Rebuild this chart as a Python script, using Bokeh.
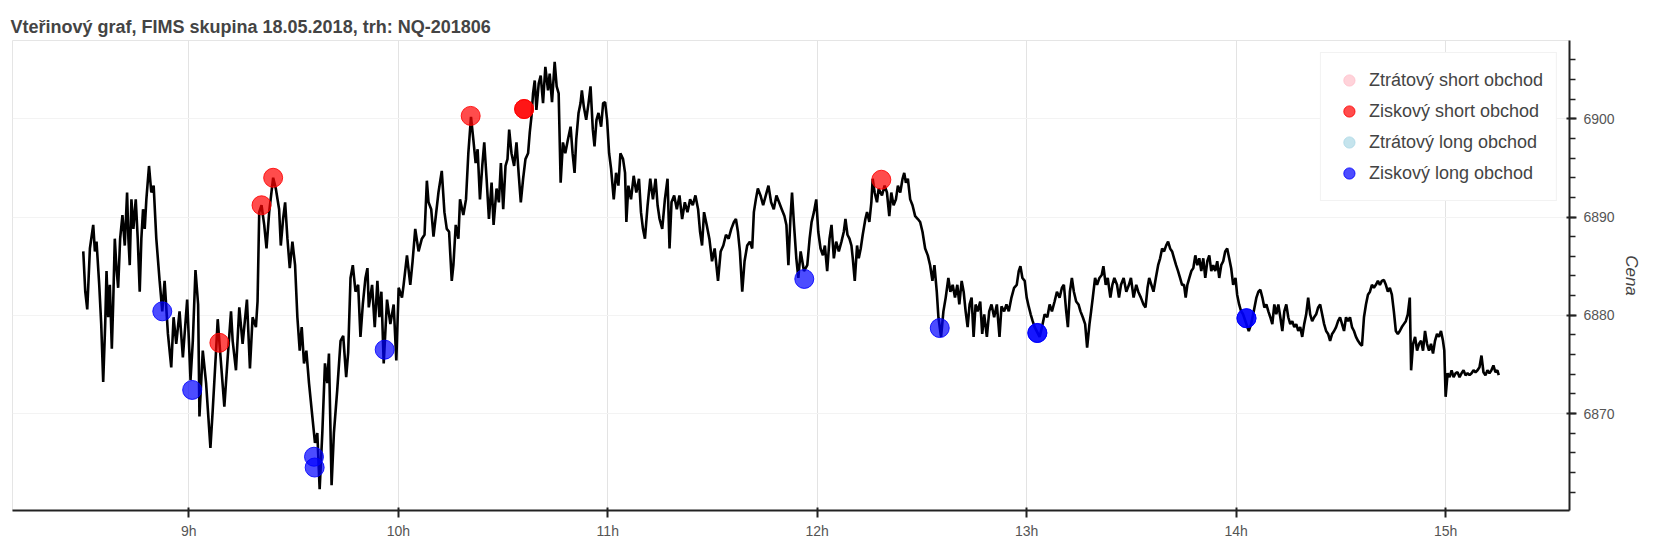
from bokeh.plotting import figure
from bokeh.models import SingleIntervalTicker, PrintfTickFormatter
from bokeh.embed import file_html
from bokeh.resources import INLINE

# --- data: time in minutes after 08:00, price ---
cas = [
    29.76, 30.33, 30.90, 31.66, 32.61, 33.09, 33.56, 34.33, 34.90, 35.47, 36.04, 36.42, 36.89, 37.37, 37.94,
    38.32, 38.79, 39.27, 39.75, 40.32, 40.98, 41.65, 42.31, 42.69, 43.07, 43.55, 44.12, 44.79, 45.36, 45.93,
    46.40, 46.88, 47.36, 47.83, 48.59, 49.25, 49.92, 50.68, 51.63, 52.39, 53.06, 54.01, 54.96, 55.63, 56.39,
    57.34, 58.29, 59.52, 60.48, 61.14, 61.90, 62.66, 63.04, 63.99, 64.94, 66.18, 66.85, 67.80, 68.27, 68.94,
    70.17, 71.13, 72.08, 72.55, 73.50, 74.45, 75.40, 76.64, 77.50, 78.26, 79.21, 79.68, 80.16, 80.82, 81.59,
    82.25, 83.01, 84.15, 84.91, 85.86, 86.34, 87.00, 87.58, 88.24, 88.91, 89.67, 90.43, 91.09, 91.76, 92.33,
    92.99, 93.66, 94.42, 95.37, 96.13, 96.80, 97.47, 98.23, 98.99, 99.65, 100.13, 100.89, 101.55, 102.51, 103.46,
    104.22, 105.07, 105.64, 106.31, 106.97, 107.74, 108.50, 109.16, 109.83, 110.59, 111.16, 111.54, 112.49, 113.25, 114.01,
    114.58, 115.15, 115.82, 116.77, 117.72, 118.67, 119.43, 120.10, 121.05, 121.52, 122.48, 123.43, 124.09, 124.85, 125.80,
    126.75, 127.51, 128.18, 128.66, 129.42, 130.08,
    131.50, 132.45, 133.21, 133.88, 134.54, 135.31, 135.78, 136.45, 137.21, 137.68, 138.63, 139.39, 140.06, 140.82, 141.49,
    142.15, 142.72, 143.39, 144.05, 144.62, 145.29, 145.96, 146.72, 147.29, 148.14, 148.81, 149.38, 150.05, 150.71, 151.28,
    151.76, 152.42, 153.18, 153.85, 154.52, 155.09, 155.75, 156.42, 157.18, 157.65, 158.13, 158.60, 159.08, 159.56, 160.22,
    160.79, 161.46, 162.12, 162.88, 163.36, 164.03, 164.79, 165.36, 165.93, 166.50, 167.16, 167.83, 168.59, 169.35, 169.92,
    170.49, 170.97, 171.63, 172.20, 172.58, 173.15, 173.82, 174.49, 175.06, 175.72, 176.20, 176.77, 177.34, 178.10, 178.67,
    179.24, 179.81, 180.38, 180.95, 181.71, 182.38, 183.05, 183.62, 184.38, 184.95, 185.33, 185.90, 186.66, 187.42, 188.18,
    188.94, 189.51, 190.08, 190.65, 191.41, 192.17, 192.94, 193.70, 194.27, 194.84, 195.60, 196.36, 197.12, 197.69, 198.26,
    199.02, 199.78, 200.54, 201.30, 202.07, 202.83, 203.59, 204.35, 205.11, 205.87, 206.44, 207.01, 207.58, 208.34, 209.10,
    209.86, 210.62, 211.58, 212.34, 213.10, 213.86, 214.62, 215.38, 216.14, 216.71, 217.28, 217.85, 218.52, 219.18, 219.94,
    220.70, 221.37, 221.85, 222.42, 222.99, 223.75, 224.51, 225.27, 226.03, 226.79, 227.55, 228.31, 229.07, 229.83, 230.60,
    231.17, 231.74, 232.31, 232.78,
    233.35, 234.01, 234.58, 235.25, 236.20, 237.15, 237.82, 238.39, 239.05, 239.72, 240.29, 240.95, 241.62, 242.19, 242.85,
    243.52, 244.09, 244.76, 245.42, 246.18, 246.94, 247.61, 248.08, 248.66, 249.23, 249.80, 250.18, 250.75, 251.41, 251.89,
    252.46, 253.03, 253.79, 254.27, 254.93, 255.50, 255.88, 256.45, 257.12, 257.59, 258.54, 259.30, 259.97, 260.64, 261.21,
    261.87, 262.54, 263.11, 263.78, 264.44, 264.92, 265.39, 265.96, 266.63, 267.29, 268.05, 268.82, 269.48, 270.15, 270.91,
    271.67, 272.33, 273.00, 273.57, 274.24, 274.71, 275.47, 276.14, 276.80, 277.56, 278.13, 278.80, 279.46, 280.13, 280.70,
    281.37, 281.94, 282.51, 283.08, 283.65, 284.22, 284.79, 285.36, 285.93, 286.69, 287.26, 287.83, 288.59, 289.26, 289.92,
    290.68, 291.45, 292.21, 292.78, 293.54, 294.20, 294.87, 295.63, 296.39, 297.15, 297.72, 298.20, 298.77, 299.43, 300.00,
    300.57, 301.14, 301.71, 302.28, 303.71, 304.38, 305.14, 305.90, 306.57, 307.23, 307.99, 308.66, 309.42, 310.09, 310.65,
    311.32, 311.80, 312.37, 312.94, 313.51, 314.17, 314.84, 315.41, 316.07, 316.74, 317.31, 317.98, 318.45, 318.93, 319.59,
    320.16, 320.83, 321.49, 321.97, 322.64, 323.21, 323.97, 324.54, 325.11, 325.87, 326.44, 327.01, 327.77, 328.53, 329.29,
    329.86, 330.62, 331.38, 331.95, 332.71, 333.47, 334.04, 334.61, 335.09,
    336.32, 336.99, 337.65, 338.22, 338.79, 339.36, 339.93, 340.50, 341.08, 341.65, 342.22, 342.79, 343.36, 343.93, 344.50,
    345.07, 345.54, 346.02, 346.59, 347.16, 347.73, 348.30, 348.87, 349.44, 350.01, 350.58, 351.15, 351.73, 352.30, 352.87,
    353.44, 354.01, 354.58, 355.15, 355.72, 356.29, 356.86, 357.43, 358.00, 358.57, 359.14, 359.81, 360.28, 360.85, 361.42,
    361.99, 363.61, 364.28, 365.04, 365.80, 366.37, 366.94, 367.51, 368.08, 368.65, 369.22, 369.79, 370.36, 370.93, 371.50,
    372.08, 372.65, 373.22, 373.79, 374.36, 374.93, 375.50, 376.07, 376.64, 377.21, 377.78, 378.35, 378.92, 379.49, 380.06,
    380.63, 381.20, 381.77, 382.34, 382.91, 383.49, 384.06, 384.63, 385.20, 385.77, 386.34, 386.91, 387.48, 388.05, 388.62,
    389.19, 389.76, 390.33, 390.90, 391.47, 392.04, 392.61, 393.18, 393.75, 394.32, 394.90, 395.47, 396.04, 396.61, 397.18,
    397.75, 398.32, 398.89, 399.46, 400.03, 400.60, 401.17, 401.74, 402.31, 402.88, 403.45, 404.02, 404.60, 405.17, 405.74,
    406.31, 406.88, 407.45, 408.02, 408.59, 409.16, 409.73, 410.11, 410.68, 411.25, 411.82, 412.39, 412.96, 413.53, 414.10,
    414.67, 415.24, 415.81, 416.39, 416.96, 417.53, 418.10, 418.67, 419.24, 419.62, 420.00, 420.57, 421.14, 421.71, 422.28,
    422.85, 423.42, 423.99, 424.56, 425.13, 425.70, 426.28, 426.85, 427.42, 427.99, 428.56, 429.13, 429.70, 430.27, 430.84,
    431.41, 431.98, 432.55, 433.12, 433.69, 434.26, 434.83, 435.21,
]
cena = [
    6886.5, 6882.4, 6880.6, 6886.8, 6889.2, 6886.5, 6887.5, 6883.1, 6879.1, 6873.2, 6879.1, 6884.5, 6879.8, 6883.1, 6876.6,
    6881.1, 6887.8, 6884.8, 6882.8, 6887.8, 6890.2, 6887.1, 6892.5, 6887.8, 6885.1, 6891.8, 6888.8, 6891.8, 6887.8, 6882.4,
    6887.8, 6890.8, 6888.8, 6891.8, 6895.2, 6892.5, 6893.2, 6887.8, 6883.5, 6880.4, 6883.5, 6878.1, 6874.7, 6879.8, 6877.1,
    6880.4, 6875.7, 6881.6, 6873.4, 6877.4, 6884.6, 6881.1, 6869.7, 6876.4, 6873.1, 6866.5, 6870.4, 6876.4, 6879.6, 6876.4,
    6870.7, 6875.7, 6880.4, 6877.4, 6874.4, 6880.8, 6877.1, 6881.6, 6874.6, 6879.8, 6878.8, 6881.4, 6890.5, 6891.2, 6889.2,
    6886.8, 6890.5, 6894.0, 6892.9, 6890.8, 6887.1, 6889.8, 6891.5, 6887.8, 6884.8, 6887.5, 6885.1, 6879.8, 6876.4, 6878.8,
    6875.1, 6876.4, 6873.1, 6869.7, 6867.0, 6868.0, 6862.3, 6868.0, 6875.1, 6873.1, 6876.1, 6862.7, 6868.0, 6872.4, 6877.4,
    6877.9, 6873.7, 6876.2, 6883.8, 6885.1, 6882.4, 6883.1, 6877.8, 6881.1, 6883.8, 6884.8, 6880.8, 6883.1, 6878.8, 6883.5,
    6879.8, 6882.4, 6875.1, 6881.6, 6879.1, 6881.1, 6875.4, 6882.8, 6881.8, 6883.1, 6886.1, 6883.1, 6885.5, 6888.8, 6886.5,
    6887.8, 6888.2, 6893.7, 6891.5, 6890.8, 6888.0,
    6892.5, 6894.7, 6890.5, 6888.8, 6888.5, 6883.5, 6885.1, 6889.2, 6887.8, 6891.8, 6890.2, 6891.8, 6896.5, 6900.2, 6897.9,
    6895.5, 6896.9, 6891.8, 6895.2, 6897.6, 6893.9, 6889.8, 6893.5, 6889.2, 6892.9, 6891.5, 6895.5, 6890.8, 6895.2, 6895.9,
    6898.9, 6896.5, 6895.2, 6897.6, 6894.2, 6891.5, 6893.9, 6895.9, 6896.5, 6898.6, 6900.2, 6902.6, 6903.9, 6900.9, 6903.6,
    6904.4, 6901.6, 6905.3, 6902.9, 6904.6, 6901.7, 6905.8, 6903.3, 6902.6, 6893.5, 6897.6, 6896.5, 6897.9, 6899.2, 6896.5,
    6894.5, 6897.9, 6900.6, 6901.6, 6902.9, 6901.2, 6899.9, 6901.6, 6903.3, 6898.9, 6897.2, 6899.9, 6900.6, 6899.2, 6901.6,
    6901.7, 6899.9, 6896.5, 6894.9, 6891.8, 6894.5, 6893.2, 6896.5, 6895.9, 6894.5, 6889.5, 6893.2, 6891.8, 6894.2, 6892.5,
    6893.9, 6890.5, 6888.8, 6887.8, 6891.2, 6893.9, 6891.8, 6893.9, 6891.2, 6889.8, 6888.8, 6891.8, 6893.9, 6886.8, 6891.5,
    6892.2, 6890.8, 6892.2, 6889.8, 6891.5, 6890.5, 6891.8, 6891.2, 6892.2, 6890.8, 6888.5, 6887.1, 6890.5, 6889.2, 6887.8,
    6885.5, 6886.8, 6883.5, 6886.5, 6887.1, 6888.2, 6887.8, 6888.8, 6889.5, 6889.8, 6888.5, 6886.5, 6882.4, 6885.5, 6887.1,
    6887.5, 6886.8, 6890.5, 6891.8, 6892.9, 6892.2, 6891.2, 6892.2, 6893.2, 6891.5, 6890.8, 6892.2, 6891.5, 6890.8, 6890.1,
    6889.2, 6885.1, 6889.8, 6892.5,
    6889.2, 6885.8, 6883.8, 6886.5, 6884.5, 6885.1, 6887.8, 6889.5, 6890.5, 6891.8, 6888.5, 6886.8, 6886.1, 6887.1, 6884.5,
    6887.8, 6889.2, 6885.8, 6887.5, 6886.5, 6887.5, 6888.5, 6889.8, 6888.2, 6887.8, 6887.1, 6885.8, 6883.5, 6887.1, 6885.8,
    6886.8, 6888.2, 6889.8, 6890.5, 6889.5, 6891.5, 6893.9, 6892.5, 6891.5, 6892.9, 6892.2, 6893.2, 6892.5, 6890.1, 6892.5,
    6891.2, 6891.8, 6893.2, 6892.5, 6893.9, 6894.5, 6893.5, 6893.9, 6891.8, 6891.2, 6890.1, 6889.8, 6889.5, 6888.5, 6886.8,
    6886.1, 6885.1, 6883.5, 6885.1, 6882.4, 6879.8, 6877.8, 6880.4, 6881.8, 6883.8, 6882.4, 6883.1, 6881.8, 6883.1, 6881.1,
    6883.5, 6882.4, 6880.4, 6878.8, 6881.1, 6881.8, 6877.8, 6881.1, 6880.4, 6881.4, 6878.1, 6880.1, 6877.8, 6880.4, 6881.1,
    6879.8, 6881.1, 6877.8, 6880.9, 6880.4, 6881.1, 6880.4, 6881.8, 6882.8, 6883.1, 6884.5, 6885.0, 6883.8, 6883.5, 6881.8,
    6880.9, 6880.1, 6879.4, 6878.8, 6877.8, 6878.8, 6880.1, 6879.8, 6881.1, 6880.4, 6881.4, 6882.4, 6881.8, 6882.8, 6883.1,
    6880.4, 6878.8, 6882.4, 6883.8, 6882.4, 6881.4, 6881.1, 6880.4, 6879.8, 6879.1, 6876.7, 6879.1, 6880.4, 6881.8, 6883.8,
    6883.1, 6883.8, 6884.1, 6885.0, 6883.1, 6883.8, 6881.8, 6883.1, 6883.8, 6883.1, 6881.8, 6883.1, 6883.8, 6882.4, 6883.1,
    6883.8, 6881.8, 6883.1, 6882.4, 6881.8, 6881.1, 6880.8, 6882.8, 6883.8,
    6882.4, 6883.8, 6885.1, 6885.8, 6886.8, 6886.5, 6887.1, 6887.5, 6886.8, 6886.5, 6885.8, 6885.1, 6884.5, 6883.8, 6883.1,
    6883.1, 6881.8, 6883.1, 6883.8, 6884.5, 6884.8, 6886.1, 6885.1, 6885.8, 6884.5, 6885.8, 6883.8, 6885.5, 6886.1, 6884.5,
    6885.1, 6884.5, 6885.5, 6883.8, 6885.1, 6885.5, 6886.5, 6886.8, 6885.8, 6884.8, 6883.1, 6883.8, 6882.1, 6881.1, 6880.4,
    6880.1, 6878.4, 6879.1, 6880.4, 6881.8, 6882.4, 6882.6, 6881.8, 6880.8, 6881.1, 6880.4, 6879.8, 6879.1, 6881.1, 6880.1,
    6881.1, 6879.8, 6878.4, 6880.4, 6881.1, 6879.8, 6879.1, 6879.4, 6878.8, 6879.1, 6878.4, 6878.8, 6877.8, 6879.1, 6880.1,
    6881.8, 6880.1, 6879.4, 6879.8, 6880.1, 6880.8, 6881.1, 6880.1, 6879.1, 6878.4, 6878.1, 6877.4, 6878.1, 6878.4, 6878.8,
    6879.4, 6879.8, 6879.1, 6878.4, 6879.8, 6879.4, 6879.8, 6878.8, 6878.4, 6877.8, 6877.4, 6877.1, 6876.9, 6879.8, 6881.1,
    6882.1, 6882.4, 6883.1, 6882.8, 6883.1, 6883.5, 6883.1, 6883.5, 6883.6, 6883.1, 6882.4, 6882.8, 6882.1, 6880.4, 6878.4,
    6878.1, 6878.4, 6878.8, 6879.1, 6879.4, 6880.1, 6881.8, 6874.4, 6877.1, 6877.8, 6876.4, 6877.1, 6877.4, 6876.4, 6878.4,
    6877.1, 6876.4, 6877.1, 6876.1, 6877.4, 6878.1, 6877.8, 6878.4, 6877.4, 6876.4, 6871.7, 6874.1, 6873.7, 6874.4, 6873.7,
    6874.1, 6874.2, 6873.7, 6874.1, 6874.4, 6873.9, 6874.1, 6873.9, 6874.1, 6874.4, 6874.2, 6874.4, 6874.7, 6875.9, 6874.2,
    6873.9, 6874.4, 6874.1, 6874.4, 6874.9, 6874.2, 6874.4, 6873.9,
]

# trades (minutes after 08:00, price)
ztrat_short_cas = []
ztrat_short_cena = []
zisk_short_cas = [68.75, 80.82, 84.15, 140.73, 156.04, 156.04, 258.36]
zisk_short_cena = [6877.2, 6891.2, 6894.0, 6900.3, 6901.0, 6901.0, 6893.8]
ztrat_long_cas = []
ztrat_long_cena = []
zisk_long_cas = [52.39, 60.95, 95.85, 96.04, 116.10, 236.29, 275.09, 303.05, 303.05, 362.95, 362.95]
zisk_long_cena = [6880.4, 6872.4, 6865.6, 6864.5, 6876.5, 6883.7, 6878.7, 6878.2, 6878.2, 6879.7, 6879.7]

TITLE = "Vteřinový graf, FIMS skupina 18.05.2018, trh: NQ-201806"
Y_LABEL = "Cena"
FONT = "Liberation Sans"
NAN = float("nan")


def hodiny(minuty):
    # empty series keep one NaN row so that the legend still draws their glyph
    return [8 + m / 60.0 for m in minuty] if minuty else [NAN]


def ceny(values):
    return list(values) if values else [NAN]


p = figure(width=1643, height=541, output_backend="svg", toolbar_location=None,
           y_axis_location="right", min_border_left=12, min_border_right=64,
           min_border_top=40, min_border_bottom=28)

p.title.text = TITLE
p.title.text_font = FONT
p.title.text_font_size = "18px"
p.title.text_font_style = "bold"
p.title.text_color = "#444444"
p.title.offset = -2
p.title.standoff = 7

p.line(hodiny(cas), cena, line_color="black", line_width=2.6)

series = [
    (ztrat_short_cas, ztrat_short_cena, "pink", "Ztrátový short obchod"),
    (zisk_short_cas, zisk_short_cena, "red", "Ziskový short obchod"),
    (ztrat_long_cas, ztrat_long_cena, "lightblue", "Ztrátový long obchod"),
    (zisk_long_cas, zisk_long_cena, "blue", "Ziskový long obchod"),
]
for xs, ys, col, lab in series:
    p.scatter(hodiny(xs), ceny(ys), size=19, fill_color=col, fill_alpha=0.7,
              line_color=col, line_alpha=0.85, legend_label=lab)

# axes
xa = p.xaxis[0]
xa.ticker = SingleIntervalTicker(interval=1, num_minor_ticks=0)
xa.formatter = PrintfTickFormatter(format="%dh")
ya = p.yaxis[0]
ya.ticker = SingleIntervalTicker(interval=10, num_minor_ticks=5)
ya.axis_label = Y_LABEL
ya.axis_label_text_font = FONT
ya.axis_label_text_font_size = "17px"
ya.axis_label_text_color = "#444444"
ya.axis_label_standoff = 4
for ax in (xa, ya):
    ax.axis_line_color = "#222222"
    ax.axis_line_width = 2
    ax.major_tick_line_color = "#222222"
    ax.major_tick_line_width = 2
    ax.minor_tick_line_color = "#222222"
    ax.minor_tick_line_width = 1.5
    ax.major_tick_in = 3
    ax.major_tick_out = 7
    ax.minor_tick_in = 0
    ax.minor_tick_out = 6
    ax.major_label_text_font = FONT
    ax.major_label_text_font_size = "14px"
    ax.major_label_text_color = "#555555"
xa.major_label_standoff = 5
ya.major_label_standoff = 7

p.xgrid.grid_line_color = "#e3e3e3"
p.ygrid.grid_line_color = "#f3f3f3"
p.outline_line_color = "#e5e5e5"

lg = p.legend[0]
lg.location = "top_right"
lg.margin = 12
lg.padding = 13
lg.spacing = 3
lg.glyph_width = 30
lg.glyph_height = 28
lg.label_height = 28
lg.label_standoff = 5
lg.label_text_font = FONT
lg.label_text_font_size = "18px"
lg.label_text_color = "#444444"
lg.border_line_color = "#e5e5e5"
lg.background_fill_color = "white"
lg.background_fill_alpha = 1.0

open("out.html", "w").write(file_html(p, INLINE))
